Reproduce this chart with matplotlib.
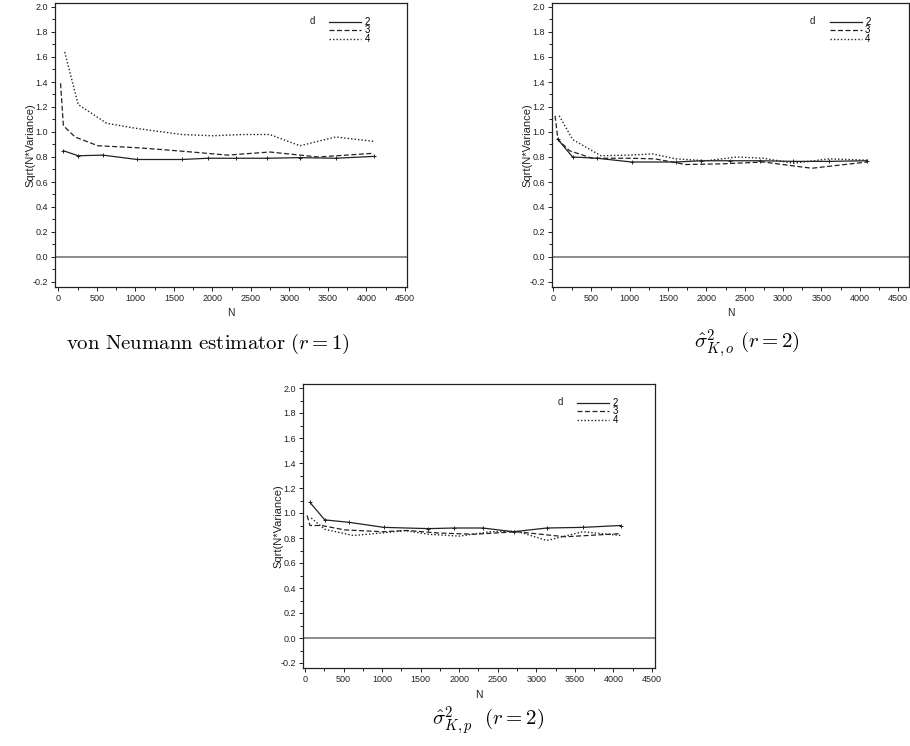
import matplotlib
matplotlib.use("Agg")
import matplotlib.pyplot as plt
from matplotlib.ticker import MultipleLocator

plt.rcParams["font.family"] = ["Liberation Sans", "DejaVu Sans"]
plt.rcParams["mathtext.fontset"] = "cm"

# sample sizes used for each dimension d
n_d2 = [64, 256, 576, 1024, 1600, 1936, 2304, 2704, 3136, 3600, 4096]
n_d3 = [27, 64, 216, 512, 1000, 1331, 1728, 2197, 2744, 3375, 4096]
n_d4 = [81, 256, 625, 1000, 1296, 1600, 2000, 2401, 2744, 3136, 3600, 4096]

# von Neumann estimator (r = 1)
vn_d2 = [0.85, 0.81, 0.815, 0.78, 0.78, 0.79, 0.79, 0.79, 0.795, 0.79, 0.805]
vn_d3 = [1.39, 1.05, 0.96, 0.89, 0.875, 0.86, 0.84, 0.815, 0.84, 0.80, 0.83]
vn_d4 = [1.64, 1.22, 1.07, 1.03, 1.005, 0.98, 0.97, 0.98, 0.98, 0.89, 0.96, 0.925]

# sigma_hat^2_{K,o} (r = 2)
ko_d2 = [0.94, 0.80, 0.79, 0.76, 0.76, 0.77, 0.77, 0.77, 0.765, 0.765, 0.77]
ko_d3 = [1.13, 0.94, 0.85, 0.79, 0.79, 0.785, 0.74, 0.745, 0.76, 0.71, 0.76]
ko_d4 = [1.13, 0.94, 0.81, 0.815, 0.825, 0.785, 0.77, 0.80, 0.79, 0.75, 0.785, 0.775]

# sigma_hat^2_{K,p} (r = 2)
kp_d2 = [1.085, 0.945, 0.925, 0.885, 0.875, 0.88, 0.88, 0.85, 0.88, 0.885, 0.90]
kp_d3 = [0.98, 0.90, 0.90, 0.865, 0.85, 0.86, 0.84, 0.83, 0.85, 0.81, 0.835]
kp_d4 = [0.96, 0.87, 0.82, 0.84, 0.86, 0.83, 0.815, 0.85, 0.855, 0.78, 0.85, 0.82]

d_labels = ["2", "3", "4"]

ink = "#222222"


def panel(ax, y2, y3, y4, xlim):
    ax.plot(n_d2, y2, color=ink, lw=0.9, label=d_labels[0])
    ax.plot(n_d3, y3, color=ink, lw=0.9, dashes=(4, 2), label=d_labels[1])
    ax.plot(n_d4, y4, color=ink, lw=1.0, dashes=(1, 1.5), label=d_labels[2])
    # small plus signs at the d=2 sample sizes
    ax.plot(n_d2, y2, ls="none", color=ink, marker="+", ms=3, mew=0.7)
    ax.axhline(0, color="#777777", lw=1.2)
    ax.set_xlim(*xlim)
    ax.set_ylim(-0.24, 2.032)
    ax.xaxis.set_major_locator(MultipleLocator(500))
    ax.xaxis.set_minor_locator(MultipleLocator(250))
    ax.yaxis.set_major_locator(MultipleLocator(0.2))
    ax.yaxis.set_minor_locator(MultipleLocator(0.1))
    ax.yaxis.set_major_formatter(plt.FuncFormatter(lambda v, p: f"{v:.1f}"))
    ax.tick_params(which="both", direction="out", labelsize=6.5, colors=ink,
                   width=0.7, pad=2)
    ax.tick_params(which="major", length=3)
    ax.tick_params(which="minor", length=2)
    for s in ax.spines.values():
        s.set_color(ink)
        s.set_linewidth(0.9)
    ax.set_xlabel("N", fontsize=7.5, color=ink, labelpad=4)
    ax.set_ylabel("Sqrt(N*Variance)", fontsize=8, color=ink, labelpad=-2)
    ax.text(0.722, 0.935, "d", transform=ax.transAxes, fontsize=7, color=ink,
            va="center")
    ax.legend(loc="upper left", bbox_to_anchor=(0.76, 0.975),
              frameon=False, fontsize=7, handlelength=3.3, handletextpad=0.3,
              labelspacing=-0.15, borderpad=0.2)


fig = plt.figure(figsize=(9.1, 7.46), dpi=100)
ax1 = fig.add_axes([55 / 910, 1 - 287 / 746, 352 / 910, 284 / 746])
ax2 = fig.add_axes([552 / 910, 1 - 287 / 746, 357 / 910, 284 / 746])
ax3 = fig.add_axes([303 / 910, 1 - 668 / 746, 352 / 910, 284 / 746])

panel(ax1, vn_d2, vn_d3, vn_d4, (-45, 4526))
panel(ax2, ko_d2, ko_d3, ko_d4, (-13, 4643))
panel(ax3, kp_d2, kp_d3, kp_d4, (-26, 4539))

fig.text(208 / 910, 1 - 344 / 746, r"$\mathrm{von\ Neumann\ estimator}\ (r=1)$",
         fontsize=15, ha="center", va="center")
fig.text(747 / 910, 1 - 344 / 746, r"$\hat{\sigma}^2_{K,o}\ (r=2)$",
         fontsize=15, ha="center", va="center")
fig.text(488 / 910, 1 - 721 / 746, r"$\hat{\sigma}^2_{K,p}\ \ (r=2)$",
         fontsize=15, ha="center", va="center")

fig.savefig("out.png", dpi=100)
